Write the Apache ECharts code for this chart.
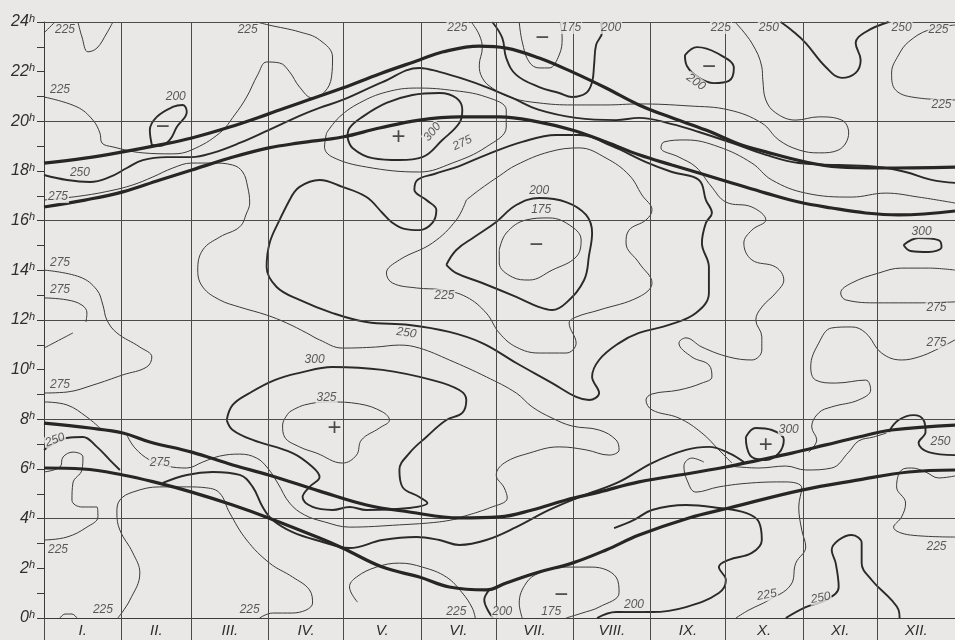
<!DOCTYPE html>
<html><head><meta charset="utf-8">
<script src="https://cdn.jsdelivr.net/npm/echarts@6/dist/echarts.min.js"></script>
<style>html,body{margin:0;padding:0;background:#eae7e7}#c{width:955px;height:640px}</style>
</head><body><div id="c"></div>
<script>
// x = day of year (0..365), y = hour of day (0..24)
const monthNames = ['I.','II.','III.','IV.','V.','VI.','VII.','VIII.','IX.','X.','XI.','XII.'];
const monthStarts = [0,31,59,90,120,151,181,212,243,273,304,334,365];
const hourGridLines = [4,8,12,16,20,24];

// twilight / sun curves (thick)
const sunsetLate = [[0,18.32],[16.4,18.52],[31.6,18.77],[46.4,19.05],[59.2,19.33],[74.4,19.77],[90,20.3],[102.4,20.74],[119.6,21.34],[134.4,21.91],[150.4,22.47],[159.6,22.79],[174.4,23.03],[185.2,22.95],[198.4,22.55],[211.6,21.99],[225.2,21.34],[238.4,20.66],[251.6,20.14],[265.2,19.65],[278.4,19.09],[289.2,18.77],[305.2,18.36],[318.4,18.16],[334.4,18.12],[365,18.16]];
const sunsetEarly = [[0,16.55],[16.4,16.83],[31.6,17.16],[46.4,17.64],[59.2,18.04],[74.4,18.52],[90,18.93],[102.4,19.13],[119.6,19.37],[134.4,19.73],[150.4,20.05],[166.4,20.18],[182.4,20.18],[198.4,19.97],[211.6,19.65],[225.2,19.17],[238.4,18.65],[251.6,18.24],[262.4,17.92],[275.6,17.52],[289.2,17.11],[302.4,16.75],[315.6,16.51],[329.2,16.31],[342.4,16.23],[365,16.39]];
const sunriseLate = [[0,7.85],[18.4,7.65],[31.6,7.45],[42.4,7.09],[59.2,6.68],[75.6,6.16],[90,5.76],[110.4,5.11],[129.2,4.55],[146.4,4.27],[166.4,4.03],[182.4,4.07],[195.6,4.35],[209.2,4.75],[222.4,5.07],[238.4,5.48],[259.6,5.84],[273.2,6.08],[286.4,6.36],[299.6,6.64],[313.2,6.97],[326.4,7.29],[339.6,7.57],[365,7.77]];
const sunriseEarly = [[0,6.04],[15.6,6.0],[31.6,5.76],[45.6,5.44],[59.2,5.07],[75.6,4.55],[90,4.03],[110.4,3.22],[119.6,2.82],[135.6,2.05],[150.4,1.65],[162.4,1.25],[177.2,1.13],[185.2,1.41],[198.4,1.85],[211.6,2.21],[225.2,2.74],[238.4,3.34],[258.4,4.03],[274.4,4.43],[303.6,5.15],[326.4,5.56],[346.4,5.88],[365,5.96]];

// contour lines: thin = 175/225/275/325, bold = 200/250/300
const c225a = [[0,23.56],[4.4,24]];
const c225b = [[13.6,24],[15.2,23.4],[17.6,22.8],[21.2,22.95],[25.2,23.56],[27.6,24]];
const c225c = [[0,20.98],[13.2,20.58],[19.6,20.05],[22.4,19.53],[23.2,19.13],[27.6,18.97],[39.6,18.73],[51.6,18.69],[59.2,18.85],[70.4,19.53],[76.4,20.26],[81.2,20.98],[85.6,21.87],[89.2,22.39],[94.4,22.35],[98.4,21.99],[102.4,21.38],[107.6,20.94],[112.4,21.18],[115.2,21.79],[115.6,22.59],[110.4,23.28],[102.4,23.6],[90,23.88],[85.2,24]];
const c200a = [[43.2,19.05],[42.4,19.65],[45.2,20.18],[51.6,20.58],[55.6,20.66],[57.2,20.38],[53.2,19.77],[50.4,19.25],[46.4,19.01],[43.2,19.05]];
const c275k = [[113.2,19.53],[112.4,18.97],[115.6,18.56],[129.2,18.16],[150.4,17.96],[163.6,18.32],[177.2,18.97],[185.2,19.77],[185.2,20.46],[177.2,20.98],[162.4,21.26],[149.2,21.34],[137.2,21.18],[126.4,20.74],[118.4,20.18],[113.2,19.53]];
const c300d = [[121.6,19.37],[123.6,18.93],[131.6,18.52],[142.4,18.44],[151.6,18.56],[159.6,19.25],[166.4,19.93],[167.6,20.46],[165.2,20.94],[158.4,21.14],[147.6,21.06],[137.2,20.74],[127.6,20.18],[122.4,19.73],[121.6,19.37]];
const c225d = [[171.2,24],[174.4,23.48],[175.6,22.95],[174.4,22.27],[175.6,21.75],[179.6,21.34],[187.6,20.94],[198.4,20.74],[211.6,20.66],[225.2,20.66],[238.4,20.7],[258.4,20.62],[274.4,20.46],[287.6,19.93],[294.4,19.25],[302.4,18.85],[310.4,18.73],[318.4,18.85],[322.4,19.53],[319.6,20.05],[310.4,20.18],[301.2,20.05],[293.2,20.34],[289.2,20.86],[288,21.67],[287.6,22.19],[283.6,23.15],[277.2,23.96]];
const c175a = [[190.4,24],[191.6,23.2],[194.4,22.39],[198.4,22.15],[202.4,22.15],[206.4,22.67],[207.6,23.36],[206.8,24]];
const c200b = [[179.6,24],[183.6,23.36],[185.2,22.55],[189.2,21.87],[198.4,21.38],[206.4,21.14],[211.6,20.98],[217.2,21.14],[219.6,21.58],[220.4,22.27],[221.2,23.07],[223.6,23.6],[223.2,24]];
const c200c = [[256.8,22.67],[261.6,22.99],[269.6,22.75],[276.4,22.15],[274.4,21.63],[268.4,21.54],[262.4,21.75],[257.6,22.23],[256.8,22.67]];
const c250a = [[295.2,24],[300.4,23.6],[305.2,23.15],[313.2,22.19],[319.6,21.75],[325.2,21.95],[327.2,22.47],[325.2,23.15],[329.2,23.6],[338.4,24]];
const c225e = [[365,23.88],[354.4,23.68],[346.4,23.2],[342.4,22.67],[339.6,21.95],[341.2,21.26],[350.4,20.94],[365,20.86]];
const c250b = [[0,17.84],[9.2,17.64],[18.4,17.56],[26.4,17.76],[33.2,18.12],[39.6,18.44],[49.2,18.56],[59.2,18.56],[67.6,18.73],[78.4,19.13],[90,19.65],[102.4,20.22],[110.4,20.54],[119.6,20.86],[135.6,21.58],[150.4,22.15],[158.4,21.99],[169.2,21.67],[177.2,21.38],[187.6,20.94],[198.4,20.46],[213.2,20.14],[229.2,20.05],[238.4,20.14],[251.6,19.89],[262.4,19.57],[275.6,19.13],[289.2,18.65],[302.4,18.32],[318.4,18.24],[334.4,18.16],[345.2,17.96],[355.6,17.64],[365,17.52]];
const c250c = [[98.4,16.83],[102.4,17.36],[110.4,17.64],[119.6,17.36],[129.2,16.95],[135.6,16.31],[139.2,15.95],[144.4,15.67],[150.4,15.62],[155.6,15.91],[157.2,16.43],[153.2,16.83],[148.4,17.24],[149.6,17.64],[156.4,17.88],[166.4,18.2],[177.2,18.65],[191.6,19.17],[205.2,19.45],[214.4,19.45],[227.6,19.0],[241.2,18.36],[251.6,17.96],[262.4,17.64],[265.2,16.83],[267.6,16.31],[265.2,15.91],[263.6,15.1],[266.4,14.13],[266.4,13.09],[261.2,12.28],[250.4,11.8],[238.4,11.48],[230.4,11.07],[222.4,10.39],[219.6,9.71],[222.4,9.06],[218.4,8.78],[213.2,8.9],[203.6,9.46],[189.2,10.27],[175.6,11.07],[162.4,11.52],[146.4,11.8],[129.2,11.92],[115.6,12.28],[102.4,12.81],[93.2,13.33],[89.2,14.13],[90.4,15.1],[94.4,16.03],[98.4,16.83]];
const c225f = [[169.2,16.83],[174.4,17.24],[182.4,17.8],[189.2,18.24],[202.4,18.77],[214.4,18.93],[225.2,18.52],[234.4,17.84],[239.6,17.03],[243.6,16.43],[241.2,16.03],[234.4,15.62],[233.2,15.1],[238.4,14.3],[243.6,13.49],[238.4,12.93],[222.4,12.4],[213.2,12.12],[210.4,11.88],[213.2,11.07],[209.2,10.67],[198.4,10.67],[189.2,10.91],[182.4,11.48],[177.2,12.28],[169.2,12.93],[159.6,13.21],[149.2,13.29],[139.6,13.49],[137.2,13.89],[142.4,14.42],[155.6,15.1],[165.2,16.03],[169.2,16.83]];
const c200d = [[161.2,14.22],[165.2,14.82],[172.4,15.34],[181.2,15.95],[189.2,16.63],[198.4,16.91],[209.2,16.75],[217.2,16.23],[219.6,15.5],[218.4,14.62],[216.4,13.61],[209.2,12.69],[203.6,12.4],[198.4,12.52],[189.2,12.93],[175.6,13.49],[165.2,13.89],[161.2,14.22]];
const c175b = [[182.4,14.82],[185.2,15.5],[193.2,16.03],[202.4,16.11],[211.6,15.75],[215.2,15.22],[213.2,14.54],[203.6,14.01],[194.4,13.61],[187.6,13.73],[182.4,14.3],[182.4,14.82]];
const c275a = [[0,16.83],[14.4,16.99],[26.4,17.2],[35.6,17.44],[43.6,17.76],[51.6,18.12],[59.2,18.32],[67.6,18.32],[75.6,18.24],[79.6,17.96],[81.6,17.36],[82.4,16.71],[81.2,16.31],[78.4,15.75],[70.4,15.34],[63.6,14.82],[61.6,14.01],[63.6,13.33],[70.4,12.81],[78.4,12.52],[89.2,12.2],[97.2,11.88],[105.2,11.48],[110.4,11.2],[119.6,10.87],[132.8,10.91],[142.4,10.99],[150.4,10.87],[162.4,10.39],[177.2,9.71],[189.2,9.06],[195.6,8.5],[203.6,8.05],[211.6,7.73],[222.4,7.57],[229.2,7.17],[230.4,6.77],[226.4,6.56],[217.2,6.77],[206.4,6.89],[194.4,6.64],[184.4,6.24],[181.2,5.76],[184.4,5.24],[185.6,4.83],[178.4,4.43],[167.2,4.07]];
const c300a = [[73.2,7.97],[75.6,8.58],[82.4,9.06],[92.4,9.58],[102.4,9.87],[115.6,10.11],[135.6,9.99],[155.6,9.58],[166.4,9.18],[169.2,8.78],[167.6,8.26],[161.2,7.97],[153.2,7.29],[146.4,6.64],[142.4,5.96],[143.6,5.28],[150.4,4.87],[153.6,4.63],[146.4,4.43],[129.2,4.35],[122.4,4.47],[115.6,4.35],[107.6,4.47],[103.6,4.87],[106.4,5.28],[110.4,5.68],[107.6,6.08],[99.6,6.64],[83.6,7.17],[75.6,7.57],[73.2,7.97]];
const c325a = [[98.4,8.3],[104.4,8.58],[114.4,8.7],[126.4,8.62],[135.6,8.3],[138.4,7.97],[134.4,7.65],[127.2,7.17],[125.2,6.56],[119.6,6.24],[109.2,6.64],[102.4,6.89],[96.4,7.29],[95.6,7.77],[98.4,8.3]];
const c275b = [[365,16.71],[350.4,16.95],[337.2,17.11],[323.6,16.95],[305.2,17.11],[291.6,17.64],[283.6,18.32],[270.4,18.97],[257.2,19.25],[248.4,19.17],[247.2,18.93],[254.4,18.56],[261.2,18.16],[267.2,17.4],[273.2,16.75],[283.6,16.55],[289.2,16.03],[283.6,15.62],[280.4,15.1],[283.6,14.42],[293.2,14.13],[296.4,13.61],[293.2,13.09],[287.6,12.52],[285.2,12.0],[287.6,11.32],[287.6,10.79],[283.6,10.39],[274.4,10.51],[263.6,10.91],[257.2,11.28],[254.4,11.07],[259.6,10.51],[266.4,10.19],[267.6,9.71],[263.6,9.46],[254.4,9.18],[243.6,9.02],[241.2,8.78],[243.6,8.38],[254.4,8.05],[263.6,7.45],[270.4,6.77],[275.6,6.24]];
const c250d = [[47.6,5.44],[57.2,5.76],[67.6,5.88],[78.4,5.76],[83.6,5.28],[87.6,4.47],[91.6,3.95],[99.6,3.46],[110.4,3.1],[122.4,2.82],[135.6,3.14],[149.2,3.26],[158.4,3.14],[166.4,2.94],[177.2,3.14],[189.2,3.66],[202.4,4.35],[215.6,4.91],[230.4,5.48],[243.6,6.24],[257.2,6.77],[266.4,6.89],[274.4,6.64],[280.4,6.28]];
const c225g = [[264.4,6.28],[259.6,6.44],[256.4,6.12],[257.6,5.56],[261.2,5.07],[270.4,5.28],[283.6,5.44],[297.2,5.48],[303.6,5.24],[302.4,4.47],[303.6,3.54],[305.2,2.86],[301.2,2.21],[299.2,1.33],[290.4,0.72],[282.4,0.32],[277.2,0]];
const c200e = [[228.4,3.62],[236.4,3.95],[243.6,4.35],[257.2,4.55],[270.4,4.43],[281.2,4.23],[286.4,3.87],[287.6,3.14],[283.6,2.62],[274.4,2.34],[270.4,2.05],[273.2,1.53],[270.4,1.01],[257.2,0.44],[243.6,0.24],[229.2,0.24],[221.6,0]];
const c225h = [[0,3.14],[9.2,3.26],[17.2,3.66],[21.6,4.07],[21.2,4.47],[15.2,4.47],[11.2,4.75],[11.6,5.44],[15.2,5.96],[15.6,6.48],[11.6,6.68],[7.6,6.48],[6.4,6.08],[0,5.88]];
const c225i = [[6.4,0],[8.4,0.16],[11.2,0.16],[13.2,0]];
const c225j = [[29.6,0],[34.4,0.72],[38.4,1.81],[35.6,2.62],[30.4,3.54],[29.2,4.23],[30.4,4.75],[35.6,5.07],[46.4,5.28],[57.2,5.28],[65.2,5.24],[70.4,5.03],[74.4,4.23],[81.2,3.14],[90.4,2.21],[99.6,1.65],[106.4,1.13],[107.6,0.6],[99.6,0.2],[91.6,0.2],[86.4,0]];
const c225k = [[125.6,0.64],[122.4,1.25],[125.2,1.65],[133.2,2.05],[142.4,2.21],[151.6,2.05],[161.2,1.65],[167.6,1.01],[171.6,0.4],[172.8,0]];
const c200f = [[178.4,1.13],[176.4,0.72],[178,0.28],[180,0]];
const c175c = [[191.6,0],[190.4,0.6],[193.2,1.41],[198.4,1.81],[209.2,2.05],[219.6,2.05],[229.2,1.65],[230.4,1.01],[222.4,0.44],[215.6,0.2],[209.2,0]];
const c275c = [[33.2,7.37],[36.4,6.85],[42.4,6.36],[49.2,6.12],[57.2,6.04],[63.6,6.28],[70.4,6.52],[78.4,6.6],[85.2,6.44],[89.6,6.04],[93.6,5.44],[98.4,4.63],[104.4,4.15],[112.4,3.87],[122.4,3.66],[142.4,3.75],[158.4,3.87],[167.2,4.03]];
const c250e = [[297.2,0],[305.2,0.44],[313.2,0.72],[318.4,1.25],[317.2,2.21],[315.6,2.74],[318.4,3.14],[323.6,3.34],[327.6,3.02],[327.6,2.21],[331.6,1.53],[339.6,0.72],[342.4,0.32],[342.8,0]];
const c225l = [[365,5.72],[358.4,5.64],[353.2,5.88],[347.6,6.04],[343.6,5.96],[341.6,5.28],[345.2,4.63],[343.6,4.07],[340.4,3.66],[347.2,3.34],[365,3.26]];
const c250f = [[338.4,7.49],[342.4,7.97],[348.4,8.17],[352.4,7.97],[353.2,7.49],[350.4,7.05],[354.4,6.68],[365,6.56]];
const c250g = [[0,6.77],[9.2,7.25],[15.6,7.29],[21.2,6.89],[26.4,6.36],[30.4,5.96]];
const c275d = [[0,14.01],[14.4,13.73],[21.2,13.21],[23.6,12.6],[25.2,12.0],[29.2,11.48],[38.4,10.91],[43.2,10.51],[41.2,10.11],[31.6,9.79],[19.6,9.38],[9.2,9.1],[0,9.06]];
const c275e = [[0,12.89],[9.2,12.81],[15.2,12.6],[17.2,12.28],[16.8,11.92]];
const c275f = [[0,10.87],[11.6,11.48]];
const c275g = [[0,8.7],[9.2,8.58],[17.2,8.09],[22.4,7.65]];
const c275h = [[365,14.01],[354.4,14.09],[343.6,14.09],[334.4,13.89],[323.6,13.49],[319.2,13.09],[321.2,12.81],[334.4,12.69],[350.4,12.69],[365,12.73]];
const c300b = [[344.4,15.02],[350.4,15.3],[358.4,15.22],[359.6,14.94],[354.4,14.74],[347.2,14.78],[344.4,15.02]];
const c275i = [[365,11.2],[357.2,10.79],[350.4,10.51],[343.6,10.39],[335.6,10.67],[329.2,11.48],[323.6,11.72],[315.6,11.68],[310.4,11.07],[307.2,10.11],[309.2,9.58],[317.2,9.46],[329.2,9.58],[331.2,9.18],[326.4,8.78],[315.6,8.5],[310.4,8.26],[307.6,7.69],[309.6,7.17],[306.4,6.68]];
const c300c = [[281.2,7.29],[285.2,7.65],[291.6,7.57],[296.4,7.17],[294.4,6.64],[289.2,6.36],[283.6,6.48],[281.6,6.89],[281.2,7.29]];
const c275j = [[274.4,6.12],[286.4,6.04],[297.2,6.12],[305.2,5.96],[315.6,6.04],[322.4,6.68],[326.4,7.13],[332.4,7.29],[337.6,7.45]];

const sunCurves = [sunsetLate, sunsetEarly, sunriseLate, sunriseEarly];
const boldContours = [c200a, c300d, c200b, c200c, c250a, c250b, c250c, c200d, c300a, c250d, c200e, c200f, c250e, c250f, c250g, c300b, c300c];
const thinContours = [c225a, c225b, c225c, c275k, c225d, c175a, c225e, c225f, c175b, c275a, c325a, c275b, c225g, c225h, c225i, c225j, c225k, c175c, c275c, c225l, c275d, c275e, c275f, c275g, c275h, c275i, c275j];

// contour value labels: [day, hour, text, rotation]
const valueLabels = [
  [8.4,23.68,'225',0],[6.4,21.26,'225',0],[52.8,20.98,'200',0],[14.4,17.92,'250',0],[5.6,16.95,'275',0],
  [81.6,23.68,'225',0],[165.6,23.76,'225',0],[211.2,23.76,'175',0],[227.2,23.76,'200',0],[271.2,23.76,'225',0],
  [290.4,23.76,'250',0],[343.6,23.76,'250',0],[358.4,23.68,'225',0],[261.2,21.58,'200',-35],[359.6,20.66,'225',0],
  [155.6,19.57,'300',50],[167.6,19.13,'275',25],[198.4,17.2,'200',0],[199.2,16.43,'175',0],[160.4,13.0,'225',0],
  [145.2,11.48,'250',-8],[108.4,10.39,'300',0],[113.2,8.86,'325',0],[351.6,15.54,'300',0],[357.6,12.48,'275',0],
  [357.6,11.07,'275',0],[6.4,14.3,'275',0],[6.4,13.21,'275',0],[6.4,9.38,'275',0],[4.4,7.17,'250',20],
  [46.4,6.24,'275',0],[298.4,7.57,'300',0],[359.2,7.09,'250',0],[5.6,2.74,'225',0],[23.6,0.32,'225',0],
  [82.4,0.32,'225',0],[165.2,0.24,'225',0],[183.6,0.24,'200',0],[203.2,0.24,'175',0],[236.4,0.52,'200',0],
  [289.6,0.93,'225',10],[311.2,0.81,'250',10],[357.6,2.86,'225',0]
];
// extremum marks
const extremaMarks = [[47.6,19.77,'−'],[199.6,23.36,'−'],[266.4,22.19,'−'],[142,19.37,'+'],[197.2,15.02,'−'],[116.4,7.65,'+'],[289.2,6.97,'+'],[207.2,0.93,'−']];

const FONT = 'Liberation Sans';
const PAPER = '#eae7e7';

function lineSeries(data, width, color, z) {
  return {type: 'line', data: data, smooth: 0.4, symbol: 'none', silent: true,
    lineStyle: {width: width, color: color}, z: z, animation: false};
}

const series = [];
series.push({
  type: 'line', data: [[0, 0]], symbol: 'none', silent: true, lineStyle: {opacity: 0}, z: 1,
  markLine: {
    silent: true, symbol: ['none', 'none'], label: {show: false}, animation: false,
    lineStyle: {type: 'solid', color: '#4a4a4a', width: 1},
    data: monthStarts.slice(1, 12).map(d => ({xAxis: d})).concat(hourGridLines.map(h => ({yAxis: h})))
  }
});
thinContours.forEach(c => series.push(lineSeries(c, 1, '#3a3a3a', 3)));
boldContours.forEach(c => series.push(lineSeries(c, 1.9, '#2a2a2a', 4)));
sunCurves.forEach(c => series.push(lineSeries(c, 3.2, '#262626', 5)));
series.push({
  type: 'scatter', symbolSize: 1, silent: true, itemStyle: {color: 'rgba(0,0,0,0)'}, z: 6, animation: false,
  data: valueLabels.map(l => ({value: [l[0], l[1]], label: {formatter: l[2], rotate: l[3]}})),
  label: {show: true, position: 'inside', color: '#333', fontSize: 12, fontStyle: 'italic', fontFamily: FONT,
    backgroundColor: PAPER, padding: [0, 1]}
});
series.push({
  type: 'scatter', symbolSize: 1, silent: true, itemStyle: {color: 'rgba(0,0,0,0)'}, z: 6, animation: false,
  data: extremaMarks.map(l => ({value: [l[0], l[1]], label: {formatter: l[2]}})),
  label: {show: true, position: 'inside', color: '#222', fontSize: 24, fontFamily: FONT}
});

const monthMids = monthStarts.slice(0, 12).map((d, i) => (d + monthStarts[i + 1]) / 2);

const chart = echarts.init(document.getElementById('c'), null, {renderer: 'canvas'});
chart.setOption({
  backgroundColor: PAPER,
  animation: false,
  textStyle: {fontFamily: FONT},
  grid: {left: 44, right: 0, top: 22, bottom: 22, containLabel: false},
  xAxis: {
    type: 'value', min: 0, max: 365,
    axisLine: {show: true, onZero: false, lineStyle: {color: '#3a3a3a', width: 1}},
    axisTick: {show: true, customValues: monthStarts, length: 22, lineStyle: {color: '#4a4a4a'}},
    axisLabel: {show: true, customValues: monthMids, margin: 5,
      formatter: v => monthNames[monthMids.indexOf(v)] || '',
      fontSize: 15, fontStyle: 'italic', color: '#2e2e2e', fontFamily: FONT},
    splitLine: {show: false}
  },
  yAxis: {
    type: 'value', min: 0, max: 24, interval: 1,
    axisLine: {show: true, lineStyle: {color: '#3a3a3a', width: 1}},
    axisTick: {show: true, length: 7, lineStyle: {color: '#3a3a3a'}},
    axisLabel: {
      margin: 9,
      formatter: v => (v % 2 === 0 ? '{n|' + v + '}{s|h}' : ''),
      rich: {
        n: {fontSize: 16, fontStyle: 'italic', color: '#2e2e2e', fontFamily: FONT, lineHeight: 18},
        s: {fontSize: 11, fontStyle: 'italic', color: '#2e2e2e', fontFamily: FONT, lineHeight: 11, verticalAlign: 'top'}
      }
    },
    splitLine: {show: false}
  },
  series: series
});
</script></body></html>
